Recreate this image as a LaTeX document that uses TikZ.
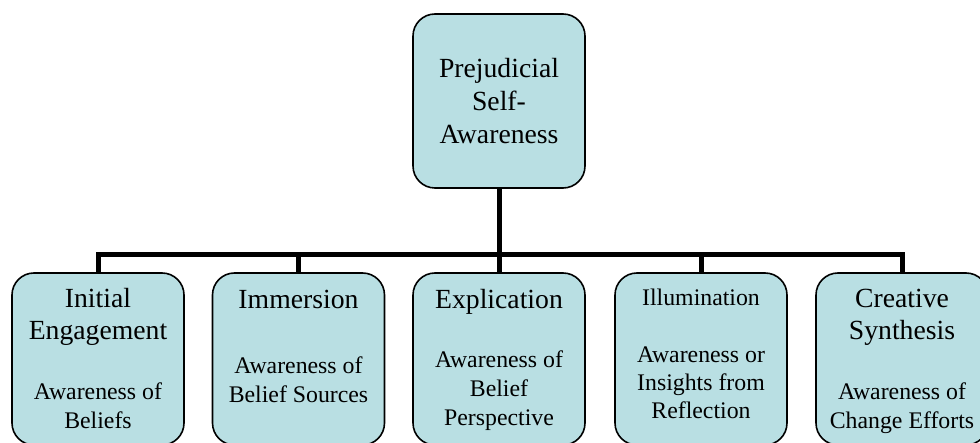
\documentclass[tikz,border=0pt]{standalone}
\usepackage{fontspec}
\setmainfont{Liberation Serif}
\usepackage{tikz}
\usetikzlibrary{positioning}
\definecolor{boxblue}{RGB}{185,223,227}

\begin{document}
\begin{tikzpicture}[x=0.5pt,y=-0.5pt]
\tikzstyle{every node}+=[inner sep=0pt]
\tikzstyle{stage}=[draw=black,line width=0.8pt,fill=boxblue,rounded corners=11pt,minimum width=86pt,minimum height=86pt]
\tikzstyle{head}=[align=center,anchor=base,font=\fontsize{13.85}{16.5}\selectfont]
\tikzstyle{sub}=[align=center,anchor=base,font=\fontsize{11.9}{14.3}\selectfont]
\tikzstyle{link}=[line width=2.5pt]

\useasboundingbox (0,0) rectangle (980,443);

\node [stage,minimum height=87pt,head,anchor=center] (top) at (499,101) {Prejudicial\\Self-\\Awareness};
\coordinate (bus) at (499,255);

\node [stage] (initial) at (98,359) {};
\node [stage] (immersion) at (298.5,359) {};
\node [stage] (explication) at (499,359) {};
\node [stage] (illumination) at (701,359) {};
\node [stage] (creative) at (902,359) {};

\draw [link] (top.south) -- (bus);
\foreach \n in {initial,immersion,explication,illumination,creative}
  \draw [link] (bus) -| (\n.north);

% anchor=base sits on the last line
\node [head] (initialhead) at (98,340) {Initial\\Engagement};
\node [sub] (initialsub) at (98,428) {Awareness of\\Beliefs};
\node [head] (immersionhead) at (298.5,308) {Immersion};
\node [sub] (immersionsub) at (298.5,402) {Awareness of\\Belief Sources};
\node [head] (explicationhead) at (499,308) {Explication};
\node [sub] (explicationsub) at (499,425) {Awareness of\\Belief\\Perspective};
\node [sub] (illuminationhead) at (701,306) {Illumination};
\node [sub,font=\fontsize{11.9}{13.8}\selectfont] (illuminationsub) at (701,418) {Awareness or\\Insights from\\Reflection};
\node [head] (creativehead) at (902,340) {Creative\\Synthesis};
\node [sub] (creativesub) at (902,428) {Awareness of\\Change Efforts};
\end{tikzpicture}
\end{document}
